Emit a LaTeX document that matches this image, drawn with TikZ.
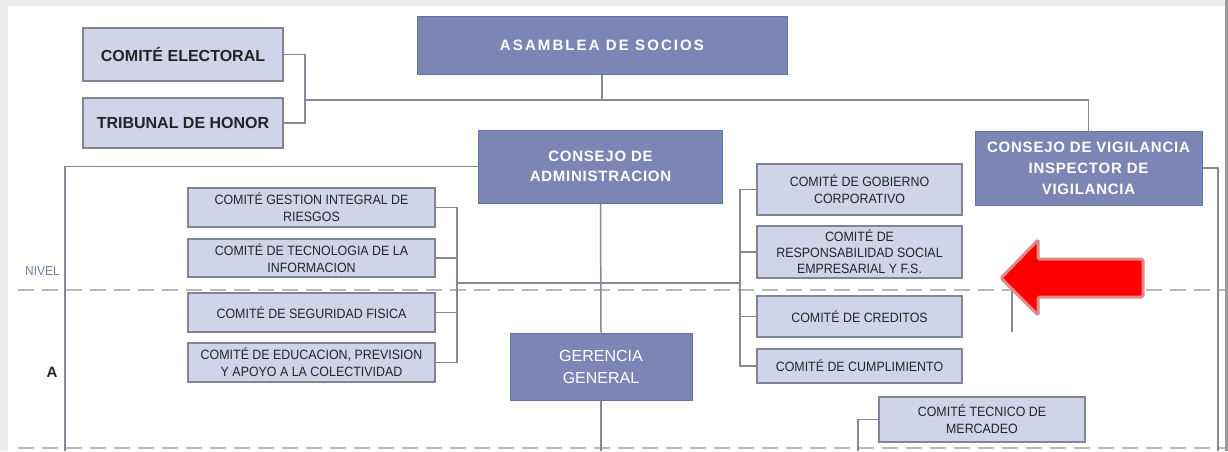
\documentclass[tikz,border=0pt]{standalone}
\usepackage{fontspec}
\setmainfont{Liberation Sans}
\newfontfamily\cond[FakeStretch=0.92]{Liberation Sans}
\newfontfamily\spaced[LetterSpace=14]{Liberation Sans}
\newfontfamily\spacedb[LetterSpace=5]{Liberation Sans}
\definecolor{lightfill}{RGB}{208,212,232}
\definecolor{darkfill}{RGB}{124,134,181}
\definecolor{boxline}{RGB}{130,132,150}
\definecolor{darkline}{RGB}{105,114,160}
\definecolor{conn}{RGB}{135,137,152}
\definecolor{txt}{RGB}{35,35,40}
\definecolor{dashc}{RGB}{185,185,185}
\definecolor{frame}{RGB}{236,236,236}
\definecolor{arrowedge}{RGB}{225,135,135}
\definecolor{nivel}{RGB}{112,125,168}
\tikzset{
  lbox/.style={draw=boxline, fill=lightfill, line width=1.2pt, inner sep=0pt, text=txt, align=center, font=\cond\fontsize{13.5}{17}\selectfont},
  dbox/.style={draw=darkline, fill=darkfill, line width=1pt, inner sep=0pt, text=white, align=center},
  bigl/.style={draw=boxline, fill=lightfill, line width=1.2pt, inner sep=0pt, text=txt, font=\bfseries\fontsize{16}{19}\selectfont},
  conline/.style={draw=conn, line width=1.5pt},
  dashline/.style={draw=dashc, line width=2.4pt, dash pattern=on 16pt off 8pt},
}
\begin{document}
\begin{tikzpicture}[x=1pt,y=-1pt]
% frame
\fill[frame] (0,0) rectangle (1228,451);
\fill[white] (8,6) rectangle (1225,451);
\fill[black!40] (1225,0) rectangle (1228,451);
\useasboundingbox (0,0) rectangle (1228,451);

% dashed level lines
\draw[dashline] (18,290) -- (1225,290);
\draw[dashline] (18,448) -- (1225,448);

% nodes
\node[bigl, minimum width=200pt, minimum height=53pt] (elect) at (183,54.5) {COMITÉ ELECTORAL};
\node[bigl, minimum width=200pt, minimum height=50pt] (trib) at (183,123) {TRIBUNAL DE HONOR};
\node[dbox, minimum width=370pt, minimum height=58pt, font=\spaced\bfseries\fontsize{15}{18}\selectfont] (asam) at (602,45) {ASAMBLEA DE SOCIOS};
\node[dbox, minimum width=244pt, minimum height=73pt, font=\spacedb\bfseries\fontsize{15}{20}\selectfont] (cadm) at (600.5,166.5) {CONSEJO DE\\ADMINISTRACION};
\node[dbox, minimum width=227pt, minimum height=74pt, font=\spacedb\bfseries\fontsize{15}{21}\selectfont] (cvig) at (1088.5,168) {CONSEJO DE VIGILANCIA\\INSPECTOR DE\\VIGILANCIA};
\node[dbox, minimum width=182pt, minimum height=67pt, font=\fontsize{16}{22}\selectfont] (ger) at (601,366.5) {GERENCIA\\GENERAL};

\node[lbox, minimum width=247pt, minimum height=39pt] (gir) at (311.5,207.5) {COMITÉ GESTION INTEGRAL DE\\RIESGOS};
\node[lbox, minimum width=247pt, minimum height=38pt] (tec) at (311.5,258) {COMITÉ DE TECNOLOGIA DE LA\\INFORMACION};
\node[lbox, minimum width=247pt, minimum height=39pt] (seg) at (311.5,312.5) {COMITÉ DE SEGURIDAD FISICA};
\node[lbox, minimum width=247pt, minimum height=39pt] (edu) at (311.5,362.5) {COMITÉ DE EDUCACION, PREVISION\\Y APOYO A LA COLECTIVIDAD};

\node[lbox, minimum width=205pt, minimum height=51pt] (gob) at (859.5,189.5) {COMITÉ DE GOBIERNO\\CORPORATIVO};
\node[lbox, minimum width=205pt, minimum height=52pt, font=\cond\fontsize{13.5}{16}\selectfont] (rse) at (859.5,252) {COMITÉ DE\\RESPONSABILIDAD SOCIAL\\EMPRESARIAL Y F.S.};
\node[lbox, minimum width=205pt, minimum height=41pt] (cred) at (859.5,316.5) {COMITÉ DE CREDITOS};
\node[lbox, minimum width=205pt, minimum height=34pt] (cump) at (859.5,366) {COMITÉ DE CUMPLIMIENTO};
\node[lbox, minimum width=206pt, minimum height=45pt] (merc) at (982,419.5) {COMITÉ TECNICO DE\\MERCADEO};

% labels
\node[anchor=west, inner sep=0pt, text=nivel, font=\cond\fontsize{13}{15}\selectfont] (niv) at (25,271) {NIVEL};
\node[inner sep=0pt, text=txt, font=\bfseries\fontsize{15}{18}\selectfont] (lvA) at (52,372) {A};

% coordinates
\coordinate (j1) at (305,100);
\coordinate (lb) at (65,451);
\coordinate (gb) at (601,451);
\coordinate (lx) at (457,283);
\coordinate (rx) at (740,283);
\coordinate (vb) at (1218,451);
\coordinate (mb) at (858,451);
\coordinate (s1) at (1012,287);
\coordinate (s2) at (1012,332);

% connectors
\draw[conline] (elect.east) -| (j1) |- (trib.east);
\draw[conline] (j1) -| (cvig.north);
\draw[conline] (asam.south) -- (asam.south |- j1);
\draw[conline] (cadm.west) -| (lb);
\draw[conline] (cadm.south) -- (ger.north);
\draw[conline] (ger.south) -- (gb);
\draw[conline] (gir.east) -| (lx) |- (edu.east);
\draw[conline] (tec.east) -- (tec.east -| lx);
\draw[conline] (seg.east) -- (seg.east -| lx);
\draw[conline] (lx) -- (rx);
\draw[conline] (gob.west) -| (rx) |- (cump.west);
\draw[conline] (rse.west) -- (rse.west -| rx);
\draw[conline] (cred.west) -- (cred.west -| rx);
\draw[conline] (cvig.east) -| (vb);
\draw[conline] (merc.west) -| (mb);
\draw[conline] (s1) -- (s2);

% red arrow
\filldraw[fill=red, draw=arrowedge, line width=3pt, rounded corners=1.5pt]
  (1001,278) -- (1038,240) -- (1038,259) -- (1143,259) -- (1143,297) -- (1038,297) -- (1038,315) -- cycle;
\end{tikzpicture}
\end{document}
